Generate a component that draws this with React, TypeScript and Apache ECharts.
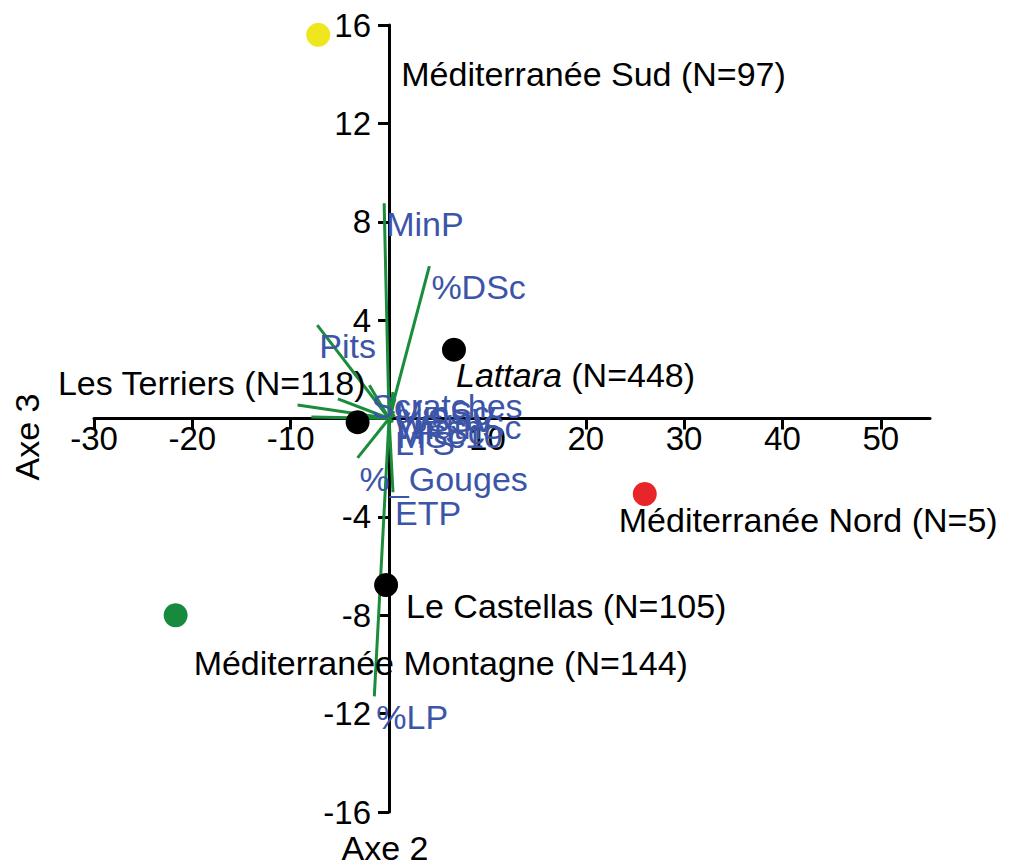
import React, { useEffect, useRef } from 'react';
import * as echarts from 'echarts';

// Group centroids (Axe 2 = x, Axe 3 = y)
const groupNames = ['Méditerranée Sud', 'Lattara', 'Méditerranée Nord', 'Les Terriers', 'Le Castellas', 'Méditerranée Montagne'];
const groupN = [97, 448, 5, 118, 105, 144];
const groupX = [-7.2, 6.6, 26.0, -3.2, -0.3, -21.7];
const groupY = [15.6, 2.8, -3.07, -0.15, -6.77, -8.0];

// Variable vectors (end points)
const varNames = ['MinP', '%DSc', 'Pits', 'Scratches', '%_Gouges', 'ETP', '%LP', 'MinSc', '%SSV', 'WidthSc', 'MFSc', 'MSc10', 'LTS', '', '', ''];
const varX = [-0.5, 4.1, -7.3, -2.0, -3.2, 0.4, -1.5, 0.4, 0.6, 0.4, 0.5, 0.6, 0.4, -9.3, -7.9, -5.2];
const varY = [8.75, 6.2, 3.8, 1.35, -1.6, -3.0, -11.3, 1.08, 0.8, 0.5, 0.3, 0.15, -0.15, 0.55, 0.06, 0.8];

const xTicks = [-30, -20, -10, 10, 20, 30, 40, 50];
const yTicks = [16, 12, 8, 4, -4, -8, -12, -16];

const X_MIN = -30, X_MAX = 55, Y_MIN = -16, Y_MAX = 16;

const FONT = 'Liberation Sans, Arial, sans-serif';
const GREEN = '#1a8c3c';
const BLUE = '#3c55a8';
const groupColors = ['#f0e61e', '#000000', '#e8262a', '#000000', '#000000', '#178a3e'];
// label placement per group: [dx, dy, align]
const groupLabelPos: [number, number, string][] = [
  [83, 39, 'left'],
  [2, 25, 'left'],
  [-26, 26, 'left'],
  [8, -39, 'right'],
  [20, 21, 'left'],
  [18, 48, 'left'],
];

const W = 1036, H = 867;
const GRID = { left: 94, right: 106, top: 25, bottom: 55 };

export default function App() {
  const ref = useRef<HTMLDivElement>(null);
  useEffect(() => {
    if (!ref.current) return;
    const chart = echarts.init(ref.current, undefined, { renderer: 'svg' });
    const gw = W - GRID.left - GRID.right;
    const gh = H - GRID.top - GRID.bottom;
    // shift the axes so that they cross at the origin
    const xOffset = -(gh * (0 - Y_MIN) / (Y_MAX - Y_MIN));
    const yOffset = -(gw * (0 - X_MIN) / (X_MAX - X_MIN));
    const axisLine = { onZero: false, lineStyle: { color: '#000', width: 3 } };
    const tickStyle = { lineStyle: { color: '#000', width: 3 }, length: 11 };
    const vectorSeries = varX.map((x, i) => ({
      type: 'line',
      data: [[0, 0], [x, varY[i]]],
      symbol: 'none',
      lineStyle: { color: GREEN, width: 3, opacity: 1 },
      z: 3,
      silent: true,
    }));
    const option: any = {
      animation: false,
      grid: GRID,
      xAxis: {
        type: 'value', min: X_MIN, max: X_MAX, interval: 10,
        offset: xOffset,
        axisLine,
        axisTick: { ...tickStyle, customValues: xTicks },
        axisLabel: { customValues: xTicks, fontSize: 33, color: '#000', fontFamily: FONT, margin: 3 },
        splitLine: { show: false },
      },
      yAxis: {
        type: 'value', min: Y_MIN, max: Y_MAX, interval: 4,
        offset: yOffset,
        axisLine,
        axisTick: { ...tickStyle, customValues: yTicks },
        axisLabel: { customValues: yTicks, fontSize: 33, color: '#000', fontFamily: FONT, margin: 18 },
        splitLine: { show: false },
      },
      graphic: [
        { type: 'text', x: 385, y: 848, style: { text: 'Axe 2', font: `34px ${FONT}`, fill: '#000', align: 'center', verticalAlign: 'middle' } },
        { type: 'text', x: 27, y: 437, rotation: Math.PI / 2, style: { text: 'Axe 3', font: `34px ${FONT}`, fill: '#000', align: 'center', verticalAlign: 'middle' } },
      ],
      series: [
        ...vectorSeries,
        {
          type: 'scatter',
          symbolSize: 24,
          z: 4,
          silent: true,
          data: groupX.map((x, i) => ({
            value: [x, groupY[i]],
            itemStyle: { color: groupColors[i], opacity: 1 },
            label: {
              show: true,
              position: 'inside',
              align: groupLabelPos[i][2],
              verticalAlign: 'middle',
              offset: [groupLabelPos[i][0], groupLabelPos[i][1]],
              color: '#000',
              opacity: 1,
              fontSize: 34,
              fontFamily: FONT,
              formatter: groupNames[i] === 'Lattara'
                ? `{i|${groupNames[i]}} (N=${groupN[i]})`
                : `${groupNames[i]} (N=${groupN[i]})`,
              rich: { i: { fontStyle: 'italic', fontSize: 34, fontFamily: FONT, color: '#000' } },
            },
          })),
        },
        {
          type: 'scatter',
          symbolSize: 1,
          z: 5,
          silent: true,
          itemStyle: { color: 'rgba(0,0,0,0)', opacity: 1 },
          data: varNames
            .map((n, i) => ({ name: n, value: [varX[i], varY[i]] }))
            .filter((d) => d.name !== ''),
          label: {
            show: true,
            position: 'inside',
            align: 'left',
            verticalAlign: 'middle',
            offset: [2, 21],
            formatter: '{b}',
            color: BLUE,
            opacity: 1,
            fontSize: 34,
            fontFamily: FONT,
          },
        },
      ],
    };
    chart.setOption(option);
    return () => chart.dispose();
  }, []);
  return <div ref={ref} style={{ position: 'absolute', left: 0, top: 0, width: W, height: H }} />;
}
